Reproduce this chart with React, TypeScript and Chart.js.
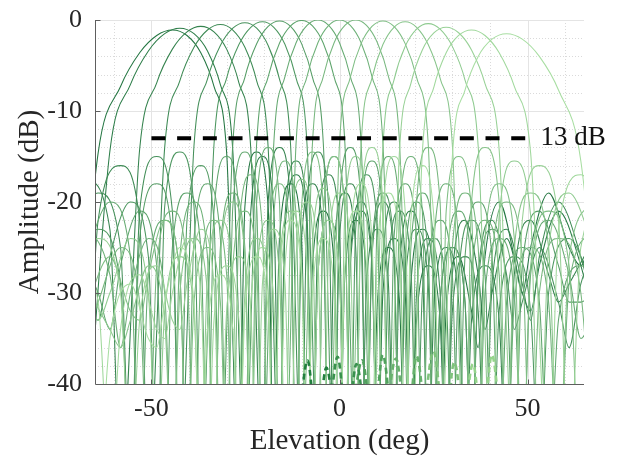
import React, { useEffect, useRef } from 'react';
import { Chart, registerables } from 'chart.js';

Chart.register(...registerables);

type P = [number, number];

// Beam patterns (elevation deg, amplitude dB), steered left -> right
const beam01: P[] = [[-71.81,-50],[-64.16,-14.6],[-58.21,-7.3],[-53.13,-3.6],[-48.59,-1.7],[-44.43,-1.1],[-40.54,-1.7],[-36.87,-3.6],[-33.37,-7.3],[-30.0,-14.6],[-26.74,-50],[-25.15,-20.5],[-22.02,-14.5],[-18.97,-20.5],[-17.46,-50],[-15.96,-24],[-13.0,-18],[-10.08,-24],[-8.63,-50],[-7.18,-27],[-4.3,-21],[-1.43,-27],[0,-50],[1.43,-28],[4.3,-22],[7.18,-28],[8.63,-50],[10.08,-31],[13.0,-25],[15.96,-31],[17.46,-50],[18.97,-29],[22.02,-23],[25.15,-29],[26.74,-50],[28.36,-32],[31.67,-26],[35.1,-32],[36.87,-36],[38.68,-26],[42.45,-20],[46.47,-26],[48.59,-30],[50.81,-25],[55.59,-19],[61.04,-25],[64.16,-27],[67.67,-22]];
const beam02: P[] = [[-67.67,-50],[-61.04,-14.4],[-55.59,-7.1],[-50.81,-3.4],[-46.47,-1.5],[-42.45,-0.9],[-38.68,-1.5],[-35.1,-3.4],[-31.67,-7.1],[-28.36,-14.4],[-25.15,-50],[-23.58,-21],[-20.49,-15],[-17.46,-21],[-15.96,-50],[-14.48,-23],[-11.54,-17],[-8.63,-23],[-7.18,-50],[-5.74,-28],[-2.87,-22],[0,-28],[1.43,-50],[2.87,-26],[5.74,-20],[8.63,-26],[10.08,-50],[11.54,-30],[14.48,-24],[17.46,-30],[18.97,-50],[20.49,-33],[23.58,-27],[26.74,-33],[28.36,-50],[30.0,-28],[33.37,-22],[36.87,-28],[38.68,-34],[40.54,-30],[44.43,-24],[48.59,-30],[50.81,-32],[53.13,-27],[58.21,-21],[64.16,-27],[67.67,-33]];
const beam03: P[] = [[-67.67,-17],[-61.04,-23],[-58.21,-50],[-53.13,-14.2],[-48.59,-6.9],[-44.43,-3.2],[-40.54,-1.3],[-36.87,-0.7],[-33.37,-1.3],[-30.0,-3.2],[-26.74,-6.9],[-23.58,-14.2],[-20.49,-50],[-18.97,-20],[-15.96,-14],[-13.0,-20],[-11.54,-50],[-10.08,-24],[-7.18,-18],[-4.3,-24],[-2.87,-50],[-1.43,-25],[1.43,-19],[4.3,-25],[5.74,-50],[7.18,-29],[10.08,-23],[13.0,-29],[14.48,-50],[15.96,-27],[18.97,-21],[22.02,-27],[23.58,-50],[25.15,-31],[28.36,-25],[31.67,-31],[33.37,-50],[35.1,-33],[38.68,-27],[42.45,-33],[44.43,-50],[46.47,-28],[50.81,-22],[55.59,-28],[58.21,-31],[61.04,-29],[67.67,-24]];
const beam04: P[] = [[-67.67,-50],[-64.16,-22],[-58.21,-16],[-53.13,-22],[-50.81,-50],[-46.47,-14.0],[-42.45,-6.7],[-38.68,-3.0],[-35.1,-1.1],[-31.67,-0.5],[-28.36,-1.1],[-25.15,-3.0],[-22.02,-6.7],[-18.97,-14.0],[-15.96,-50],[-14.48,-21.5],[-11.54,-15.5],[-8.63,-21.5],[-7.18,-50],[-5.74,-23],[-2.87,-17],[0,-23],[1.43,-50],[2.87,-27],[5.74,-21],[8.63,-27],[10.08,-50],[11.54,-26],[14.48,-20],[17.46,-26],[18.97,-50],[20.49,-30],[23.58,-24],[26.74,-30],[28.36,-50],[30.0,-32],[33.37,-26],[36.87,-32],[38.68,-50],[40.54,-29],[44.43,-23],[48.59,-29],[50.81,-33],[53.13,-26],[58.21,-20],[64.16,-26],[67.67,-32]];
const beam05: P[] = [[-71.81,-25],[-64.16,-19],[-58.21,-25],[-55.59,-50],[-53.13,-21],[-48.59,-15],[-44.43,-21],[-42.45,-50],[-38.68,-13.8],[-35.1,-6.5],[-31.67,-2.8],[-28.36,-0.9],[-25.15,-0.3],[-22.02,-0.9],[-18.97,-2.8],[-15.96,-6.5],[-13.0,-13.8],[-10.08,-50],[-8.63,-20.5],[-5.74,-14.5],[-2.87,-20.5],[-1.43,-50],[0,-24],[2.87,-18],[5.74,-24],[7.18,-50],[8.63,-26],[11.54,-20],[14.48,-26],[15.96,-50],[17.46,-29],[20.49,-23],[23.58,-29],[25.15,-50],[26.74,-31],[30.0,-25],[33.37,-31],[35.1,-50],[36.87,-28],[40.54,-22],[44.43,-28],[46.47,-34],[48.59,-31],[53.13,-25],[58.21,-31],[61.04,-36],[64.16,-29],[71.81,-23]];
const beam06: P[] = [[-67.67,-30],[-64.16,-33],[-61.04,-26],[-55.59,-20],[-50.81,-26],[-48.59,-50],[-46.47,-20.5],[-42.45,-14.5],[-38.68,-20.5],[-36.87,-50],[-33.37,-13.7],[-30.0,-6.4],[-26.74,-2.7],[-23.58,-0.8],[-20.49,-0.2],[-17.46,-0.8],[-14.48,-2.7],[-11.54,-6.4],[-8.63,-13.7],[-5.74,-50],[-4.3,-21],[-1.43,-15],[1.43,-21],[2.87,-50],[4.3,-23],[7.18,-17],[10.08,-23],[11.54,-50],[13.0,-27],[15.96,-21],[18.97,-27],[20.49,-50],[22.02,-30],[25.15,-24],[28.36,-30],[30.0,-50],[31.67,-28],[35.1,-22],[38.68,-28],[40.54,-50],[42.45,-32],[46.47,-26],[50.81,-32],[53.13,-50],[55.59,-30],[61.04,-24],[67.67,-30]];
const beam07: P[] = [[-71.81,-29],[-64.16,-23],[-58.21,-29],[-55.59,-50],[-53.13,-24],[-48.59,-18],[-44.43,-24],[-42.45,-50],[-40.54,-22],[-36.87,-16],[-33.37,-22],[-31.67,-50],[-28.36,-13.6],[-25.15,-6.3],[-22.02,-2.6],[-18.97,-0.7],[-15.96,-0.1],[-13.0,-0.7],[-10.08,-2.6],[-7.18,-6.3],[-4.3,-13.6],[-1.43,-50],[0,-20],[2.87,-14],[5.74,-20],[7.18,-50],[8.63,-25],[11.54,-19],[14.48,-25],[15.96,-50],[17.46,-26],[20.49,-20],[23.58,-26],[25.15,-50],[26.74,-31],[30.0,-25],[33.37,-31],[35.1,-50],[36.87,-29],[40.54,-23],[44.43,-29],[46.47,-50],[48.59,-27],[53.13,-21],[58.21,-27],[61.04,-31],[64.16,-31],[71.81,-25]];
const beam08: P[] = [[-71.81,-24],[-64.16,-30],[-61.04,-34],[-58.21,-27],[-53.13,-21],[-48.59,-27],[-46.47,-50],[-44.43,-25],[-40.54,-19],[-36.87,-25],[-35.1,-50],[-33.37,-21],[-30.0,-15],[-26.74,-21],[-25.15,-50],[-22.02,-13.55],[-18.97,-6.25],[-15.96,-2.55],[-13.0,-0.65],[-10.08,-0.05],[-7.18,-0.65],[-4.3,-2.55],[-1.43,-6.25],[1.43,-13.55],[4.3,-50],[5.74,-21.5],[8.63,-15.5],[11.54,-21.5],[13.0,-50],[14.48,-24],[17.46,-18],[20.49,-24],[22.02,-50],[23.58,-28],[26.74,-22],[30.0,-28],[31.67,-50],[33.37,-26],[36.87,-20],[40.54,-26],[42.45,-50],[44.43,-31],[48.59,-25],[53.13,-31],[55.59,-50],[58.21,-33],[64.16,-27],[71.81,-33]];
const beam09: P[] = [[-67.67,-26],[-61.04,-20],[-55.59,-26],[-53.13,-50],[-50.81,-28],[-46.47,-22],[-42.45,-28],[-40.54,-50],[-38.68,-24],[-35.1,-18],[-31.67,-24],[-30.0,-50],[-28.36,-20.5],[-25.15,-14.5],[-22.02,-20.5],[-20.49,-50],[-17.46,-13.5],[-14.48,-6.2],[-11.54,-2.5],[-8.63,-0.6],[-5.74,0],[-2.87,-0.6],[0,-2.5],[2.87,-6.2],[5.74,-13.5],[8.63,-50],[10.08,-21],[13.0,-15],[15.96,-21],[17.46,-50],[18.97,-25],[22.02,-19],[25.15,-25],[26.74,-50],[28.36,-27],[31.67,-21],[35.1,-27],[36.87,-50],[38.68,-30],[42.45,-24],[46.47,-30],[48.59,-50],[50.81,-28],[55.59,-22],[61.04,-28],[64.16,-35],[67.67,-32]];
const beam10: P[] = [[-67.67,-22],[-61.04,-28],[-58.21,-36],[-55.59,-30],[-50.81,-24],[-46.47,-30],[-44.43,-50],[-42.45,-26],[-38.68,-20],[-35.1,-26],[-33.37,-50],[-31.67,-25],[-28.36,-19],[-25.15,-25],[-23.58,-50],[-22.02,-20],[-18.97,-14],[-15.96,-20],[-14.48,-50],[-11.54,-13.5],[-8.63,-6.2],[-5.74,-2.5],[-2.87,-0.6],[0,0],[2.87,-0.6],[5.74,-2.5],[8.63,-6.2],[11.54,-13.5],[14.48,-50],[15.96,-21],[18.97,-15],[22.02,-21],[23.58,-50],[25.15,-24],[28.36,-18],[31.67,-24],[33.37,-50],[35.1,-28],[38.68,-22],[42.45,-28],[44.43,-50],[46.47,-31],[50.81,-25],[55.59,-31],[58.21,-50],[61.04,-29],[67.67,-23]];
const beam11: P[] = [[-67.67,-35],[-64.16,-31],[-58.21,-25],[-53.13,-31],[-50.81,-50],[-48.59,-27],[-44.43,-21],[-40.54,-27],[-38.68,-50],[-36.87,-28],[-33.37,-22],[-30.0,-28],[-28.36,-50],[-26.74,-23],[-23.58,-17],[-20.49,-23],[-18.97,-50],[-17.46,-21.5],[-14.48,-15.5],[-11.54,-21.5],[-10.08,-50],[-7.18,-13.5],[-4.3,-6.2],[-1.43,-2.5],[1.43,-0.6],[4.3,0],[7.18,-0.6],[10.08,-2.5],[13.0,-6.2],[15.96,-13.5],[18.97,-50],[20.49,-20],[23.58,-14],[26.74,-20],[28.36,-50],[30.0,-25],[33.37,-19],[36.87,-25],[38.68,-50],[40.54,-26],[44.43,-20],[48.59,-26],[50.81,-50],[53.13,-30],[58.21,-24],[64.16,-30],[67.67,-50]];
const beam12: P[] = [[-67.67,-32],[-61.04,-26],[-55.59,-32],[-53.13,-33],[-50.81,-28],[-46.47,-22],[-42.45,-28],[-40.54,-50],[-38.68,-31],[-35.1,-25],[-31.67,-31],[-30.0,-50],[-28.36,-27],[-25.15,-21],[-22.02,-27],[-20.49,-50],[-18.97,-24],[-15.96,-18],[-13.0,-24],[-11.54,-50],[-10.08,-20.5],[-7.18,-14.5],[-4.3,-20.5],[-2.87,-50],[0,-13.6],[2.87,-6.3],[5.74,-2.6],[8.63,-0.7],[11.54,-0.1],[14.48,-0.7],[17.46,-2.6],[20.49,-6.3],[23.58,-13.6],[26.74,-50],[28.36,-21],[31.67,-15],[35.1,-21],[36.87,-50],[38.68,-24],[42.45,-18],[46.47,-24],[48.59,-50],[50.81,-27],[55.59,-21],[61.04,-27],[64.16,-50],[67.67,-30]];
const beam13: P[] = [[-67.67,-29],[-61.04,-34],[-58.21,-36],[-55.59,-33],[-50.81,-27],[-46.47,-33],[-44.43,-50],[-42.45,-30],[-38.68,-24],[-35.1,-30],[-33.37,-50],[-31.67,-26],[-28.36,-20],[-25.15,-26],[-23.58,-50],[-22.02,-28],[-18.97,-22],[-15.96,-28],[-14.48,-50],[-13.0,-23.5],[-10.08,-17.5],[-7.18,-23.5],[-5.74,-50],[-4.3,-21],[-1.43,-15],[1.43,-21],[2.87,-50],[5.74,-13.7],[8.63,-6.4],[11.54,-2.7],[14.48,-0.8],[17.46,-0.2],[20.49,-0.8],[23.58,-2.7],[26.74,-6.4],[30.0,-13.7],[33.37,-50],[35.1,-20],[38.68,-14],[42.45,-20],[44.43,-50],[46.47,-25],[50.81,-19],[55.59,-25],[58.21,-50],[61.04,-26],[67.67,-20]];
const beam14: P[] = [[-67.67,-29],[-64.16,-33],[-61.04,-30],[-55.59,-24],[-50.81,-30],[-48.59,-50],[-46.47,-32],[-42.45,-26],[-38.68,-32],[-36.87,-50],[-35.1,-28],[-31.67,-22],[-28.36,-28],[-26.74,-50],[-25.15,-30],[-22.02,-24],[-18.97,-30],[-17.46,-50],[-15.96,-27],[-13.0,-21],[-10.08,-27],[-8.63,-50],[-7.18,-24.5],[-4.3,-18.5],[-1.43,-24.5],[0,-50],[1.43,-21],[4.3,-15],[7.18,-21],[8.63,-50],[11.54,-13.9],[14.48,-6.6],[17.46,-2.9],[20.49,-1.0],[23.58,-0.4],[26.74,-1.0],[30.0,-2.9],[33.37,-6.6],[36.87,-13.9],[40.54,-50],[42.45,-21.5],[46.47,-15.5],[50.81,-21.5],[53.13,-50],[55.59,-25],[61.04,-19],[67.67,-25]];
const beam15: P[] = [[-71.81,-30],[-64.16,-24],[-58.21,-30],[-55.59,-50],[-53.13,-33],[-48.59,-27],[-44.43,-33],[-42.45,-34],[-40.54,-29],[-36.87,-23],[-33.37,-29],[-31.67,-50],[-30.0,-32],[-26.74,-26],[-23.58,-32],[-22.02,-50],[-20.49,-29],[-17.46,-23],[-14.48,-29],[-13.0,-50],[-11.54,-26],[-8.63,-20],[-5.74,-26],[-4.3,-50],[-2.87,-25],[0,-19],[2.87,-25],[4.3,-50],[5.74,-20],[8.63,-14],[11.54,-20],[13.0,-50],[15.96,-14.3],[18.97,-7.0],[22.02,-3.3],[25.15,-1.4],[28.36,-0.8],[31.67,-1.4],[35.1,-3.3],[38.68,-7.0],[42.45,-14.3],[46.47,-50],[48.59,-22],[53.13,-16],[58.21,-22],[61.04,-50],[64.16,-25],[71.81,-19]];
const beam16: P[] = [[-71.81,-25],[-64.16,-31],[-61.04,-50],[-58.21,-34],[-53.13,-28],[-48.59,-34],[-46.47,-35],[-44.43,-30],[-40.54,-24],[-36.87,-30],[-35.1,-50],[-33.37,-33],[-30.0,-27],[-26.74,-33],[-25.15,-50],[-23.58,-31],[-20.49,-25],[-17.46,-31],[-15.96,-50],[-14.48,-27],[-11.54,-21],[-8.63,-27],[-7.18,-50],[-5.74,-28],[-2.87,-22],[0,-28],[1.43,-50],[2.87,-24],[5.74,-18],[8.63,-24],[10.08,-50],[11.54,-21],[14.48,-15],[17.46,-21],[18.97,-50],[22.02,-14.6],[25.15,-7.3],[28.36,-3.6],[31.67,-1.7],[35.1,-1.1],[38.68,-1.7],[42.45,-3.6],[46.47,-7.3],[50.81,-14.6],[55.59,-50],[58.21,-23],[64.16,-17],[71.81,-23]];
const beam17: P[] = [[-67.67,-33],[-64.16,-50],[-61.04,-35],[-55.59,-29],[-50.81,-35],[-48.59,-36],[-46.47,-31],[-42.45,-25],[-38.68,-31],[-36.87,-50],[-35.1,-34],[-31.67,-28],[-28.36,-34],[-26.74,-50],[-25.15,-32],[-22.02,-26],[-18.97,-32],[-17.46,-50],[-15.96,-28],[-13.0,-22],[-10.08,-28],[-8.63,-50],[-7.18,-30],[-4.3,-24],[-1.43,-30],[0,-50],[1.43,-27],[4.3,-21],[7.18,-27],[8.63,-50],[10.08,-25],[13.0,-19],[15.96,-25],[17.46,-50],[18.97,-22],[22.02,-16],[25.15,-22],[26.74,-50],[30.0,-15.0],[33.37,-7.7],[36.87,-4.0],[40.54,-2.1],[44.43,-1.5],[48.59,-2.1],[53.13,-4.0],[58.21,-7.7],[64.16,-15.5],[71.81,-50]];

// Low-level dashed traces near the floor
const dashed01: P[] = [[-11,-45],[-8.5,-37.4],[-6,-45],[-3.5,-38.2],[-1,-45]];
const dashed02: P[] = [[-3,-45],[-0.5,-37.0],[2,-45],[4.5,-37.8],[7,-45]];
const dashed03: P[] = [[3,-45],[6,-37.4],[9,-45],[11.5,-36.8],[14,-45]];
const dashed04: P[] = [[12,-45],[15,-37.2],[18,-45],[20.5,-36.9],[23,-45]];
const dashed05: P[] = [[22,-45],[25,-36.4],[28,-45],[30.5,-37.6],[33,-45]];
const dashed06: P[] = [[33,-45],[35.5,-37.8],[38,-45],[40.5,-36.8],[43,-45]];

// Sidelobe reference line
const refX = [-50, 50];
const refY = [-13, -13];
const refLabel = '13 dB';

const xLabelTicks = [-50, 0, 50];
const xMinorGrid = [-60, -40, -30, -20, -10, 10, 20, 30, 40, 60];
const yMajorGrid = [0, -10, -20, -30];
const yMinorGrid = [-2, -4, -6, -8, -12, -14, -16, -18, -22, -24, -26, -28, -32, -34, -36, -38];

const beams = [beam01, beam02, beam03, beam04, beam05, beam06, beam07, beam08, beam09, beam10, beam11, beam12, beam13, beam14, beam15, beam16, beam17];
const dashedSets = [dashed01, dashed02, dashed03, dashed04, dashed05, dashed06];

const mix = (a: number[], b: number[], t: number) =>
  `rgb(${Math.round(a[0] + (b[0] - a[0]) * t)},${Math.round(a[1] + (b[1] - a[1]) * t)},${Math.round(a[2] + (b[2] - a[2]) * t)})`;
const DARK = [36, 118, 66];
const LIGHT = [168, 222, 162];

const FONT = '"Liberation Serif", "Times New Roman", serif';
const TEXT = '#262626';

const gridPlugin = {
  id: 'matlabGrid',
  beforeDatasetsDraw(chart: any) {
    const { ctx, chartArea: a, scales } = chart;
    const x = scales.x, y = scales.y;
    const seg = (x1: number, y1: number, x2: number, y2: number) => {
      ctx.beginPath(); ctx.moveTo(x1, y1); ctx.lineTo(x2, y2); ctx.stroke();
    };
    ctx.save();
    ctx.lineWidth = 1;
    ctx.strokeStyle = '#dadada';
    ctx.setLineDash([1, 2]);
    xMinorGrid.forEach(v => { const p = Math.round(x.getPixelForValue(v)) + 0.5; seg(p, a.top, p, a.bottom); });
    yMinorGrid.forEach(v => { const p = Math.round(y.getPixelForValue(v)) + 0.5; seg(a.left, p, a.right, p); });
    ctx.setLineDash([]);
    ctx.strokeStyle = '#e4e4e4';
    xLabelTicks.forEach(v => { const p = Math.round(x.getPixelForValue(v)) + 0.5; seg(p, a.top, p, a.bottom); });
    yMajorGrid.forEach(v => { const p = Math.round(y.getPixelForValue(v)) + 0.5; seg(a.left, p, a.right, p); });
    ctx.restore();
  },
  afterDatasetsDraw(chart: any) {
    const { ctx, chartArea: a, scales } = chart;
    const x = scales.x, y = scales.y;
    ctx.save();
    ctx.strokeStyle = '#5e5e5e';
    ctx.lineWidth = 1;
    const L = Math.round(a.left) + 0.5, B = Math.round(a.bottom) + 0.5;
    ctx.beginPath();
    ctx.moveTo(L, a.top); ctx.lineTo(L, B); ctx.lineTo(a.right, B);
    ctx.stroke();
    [0, -10, -20, -30].forEach(v => {
      const p = Math.round(y.getPixelForValue(v)) + 0.5;
      ctx.beginPath(); ctx.moveTo(L, p); ctx.lineTo(L + 5, p); ctx.stroke();
    });
    xLabelTicks.forEach(v => {
      const p = Math.round(x.getPixelForValue(v)) + 0.5;
      ctx.beginPath(); ctx.moveTo(p, B); ctx.lineTo(p, B - 5); ctx.stroke();
    });
    ctx.fillStyle = '#111';
    ctx.font = `27px ${FONT}`;
    ctx.textAlign = 'left';
    ctx.textBaseline = 'middle';
    ctx.fillText(refLabel, x.getPixelForValue(refX[1]) + 13, y.getPixelForValue(refY[1]));
    ctx.restore();
  },
};

export default function App() {
  const ref = useRef<HTMLCanvasElement>(null);
  useEffect(() => {
    if (!ref.current) return;
    const n = beams.length;
    const datasets: any[] = beams.map((b, i) => ({
      data: b.map(([px, py]) => ({ x: px, y: py })),
      borderColor: mix(DARK, LIGHT, i / (n - 1)),
      borderWidth: 1.05,
      pointRadius: 0,
      cubicInterpolationMode: 'monotone',
      fill: false,
      order: 100 - i,
    }));
    dashedSets.forEach((d, i) => {
      datasets.push({
        data: d.map(([px, py]) => ({ x: px, y: py })),
        borderColor: mix([34, 128, 62], [150, 212, 140], i / (dashedSets.length - 1)),
        borderWidth: 2.6,
        borderDash: [6, 4],
        pointRadius: 0,
        cubicInterpolationMode: 'monotone',
        fill: false,
        order: 2,
      });
    });
    datasets.push({
      data: refX.map((v, i) => ({ x: v, y: refY[i] })),
      borderColor: '#000',
      borderWidth: 4,
      borderDash: [14, 11.7],
      pointRadius: 0,
      fill: false,
      order: 0,
    });
    const chart = new Chart(ref.current, {
      type: 'line',
      data: { datasets },
      plugins: [gridPlugin],
      options: {
        responsive: false,
        animation: false,
        devicePixelRatio: 1,
        events: [],
        layout: { padding: { top: 20, right: 33, left: 0, bottom: 0 } },
        elements: { line: { capBezierPoints: false } },
        plugins: { legend: { display: false }, tooltip: { enabled: false } },
        scales: {
          x: {
            type: 'linear',
            min: -65,
            max: 65,
            afterFit: (s: any) => { s.height = 78; s.paddingLeft = 0; s.paddingRight = 0; },
            grid: { display: false, drawTicks: false },
            border: { display: false },
            ticks: { stepSize: 50, includeBounds: false, color: TEXT, font: { family: FONT, size: 26 }, padding: 10, maxRotation: 0, autoSkip: false },
            title: { display: true, text: 'Elevation (deg)', color: TEXT, font: { family: FONT, size: 29 }, padding: { top: 0, bottom: 3 } },
          },
          y: {
            type: 'linear',
            min: -40,
            max: 0,
            afterFit: (s: any) => { s.width = 95; s.paddingTop = 0; s.paddingBottom = 0; },
            grid: { display: false, drawTicks: false },
            border: { display: false },
            ticks: { stepSize: 10, color: TEXT, font: { family: FONT, size: 26 }, padding: 13 },
            title: { display: true, text: 'Amplitude (dB)', color: TEXT, font: { family: FONT, size: 29 }, padding: { top: 13, bottom: 0 } },
          },
        },
      } as any,
    });
    return () => chart.destroy();
  }, []);
  return (
    <div style={{ position: 'fixed', left: 0, top: 0, width: 617, height: 462, background: '#fff' }}>
      <canvas ref={ref} width={617} height={462} />
    </div>
  );
}
